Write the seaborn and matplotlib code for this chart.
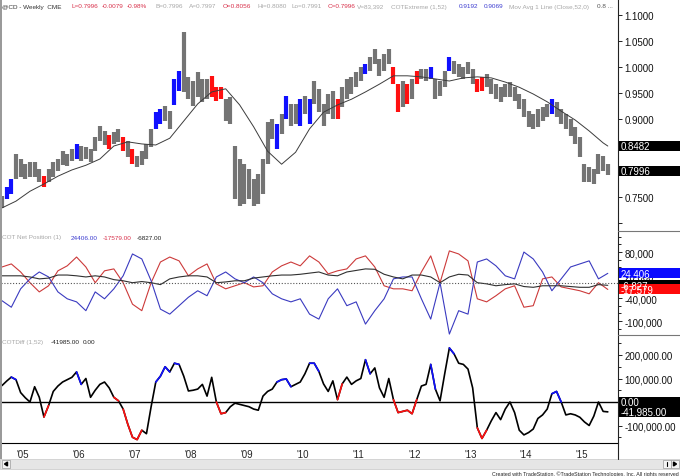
import numpy as np
import matplotlib
matplotlib.use("Agg")
import matplotlib.pyplot as plt
from matplotlib.patches import Rectangle, Polygon
from matplotlib.lines import Line2D
from matplotlib.transforms import blended_transform_factory
import seaborn as sns

# monthly bars, index 0 = Aug 2004 ... 130 = Jun 2015
price_hi = [.752, .769, .785, .833, .823, .813, .817, .817, .804, .790,
            .804, .817, .823, .838, .833, .842, .852, .848, .846, .842,
            .865, .886, .877, .869, .875, .881, .865, .858, .842, .829,
            .838, .852, .881, .913, .919, .925, .915, .977, .992, 1.067,
            .981, .973, .990, .977, .977, .983, .961, .961, .938, .942,
            .848, .823, .813, .804, .785, .794, .823, .894, .900, .890,
            .910, .944, .929, .929, .938, .944, .938, .973, .958, .929,
            .948, .954, .938, .961, .977, .981, .990, 1.000, 1.006, 1.019,
            1.035, 1.015, 1.025, 1.035, 1.000, .967, .973, .967, .977, .992,
            .996, .996, 1.000, .977, .973, .992, 1.019, 1.011, 1.006, 1.000,
            1.009, .996, .977, .981, .987, .977, .967, .961, .967, .971,
            .961, .948, .938, .915, .910, .919, .923, .929, .938, .933,
            .919, .910, .900, .885, .865, .813, .808, .804, .833, .829,
            .813]
price_lo = [.728, .746, .756, .785, .788, .785, .788, .788, .779, .769,
            .779, .788, .800, .811, .810, .819, .823, .819, .823, .817,
            .838, .858, .850, .842, .852, .856, .838, .827, .813, .808,
            .811, .823, .846, .881, .890, .896, .881, .927, .954, .952,
            .938, .925, .942, .933, .938, .942, .935, .938, .896, .890,
            .746, .733, .737, .746, .733, .737, .756, .813, .861, .842,
            .871, .900, .886, .890, .886, .910, .890, .929, .913, .886,
            .910, .900, .900, .923, .938, .948, .961, .973, .987, .992,
            1.006, .983, .992, 1.006, .967, .913, .923, .929, .938, .967,
            .977, .973, .977, .938, .944, .961, .992, .987, .981, .977,
            .987, .967, .952, .954, .961, .948, .938, .933, .942, .942,
            .935, .919, .904, .885, .881, .885, .896, .904, .910, .904,
            .890, .881, .867, .852, .827, .779, .779, .775, .794, .800,
            .792]
price_blue = [1, 2, 16, 33, 34, 37, 38, 59, 61, 64, 66, 78, 92, 96, 118]
price_red = [9, 23, 26, 28, 45, 46, 47, 72, 84, 85, 87, 89, 102, 103]

ma_month = [0, 3, 6, 9, 12, 15, 18, 21, 24, 27, 30, 33, 36, 39, 42, 45, 48, 51,
            54, 57, 60, 63, 66, 69, 72, 75, 78, 81, 84, 87, 90, 93, 96, 99, 102,
            105, 108, 111, 114, 117, 120, 123, 126, 129, 130]
ma_value = [.729, .742, .761, .775, .790, .802, .811, .823, .848, .856, .852,
            .850, .863, .896, .929, .952, .958, .927, .885, .838, .813, .836,
            .881, .913, .927, .938, .952, .967, .983, .983, .981, .977, .973,
            .979, .981, .979, .971, .961, .948, .933, .915, .898, .877, .854,
            .848]

# COT net positions, every 2nd month, in thousands of contracts
cot_month = list(range(0, 131, 2))
cot_blue = [-47, -64, -16, 10, 28, 15, -24, -42, -50, -73, -24, -42, -16, 18,
            75, 62, 5, -69, -82, -60, -38, -21, -34, 15, 28, 10, 0, 15, 0, -29,
            -42, -50, -42, -82, -95, -42, -16,
            -60, -50, -108, -73, -42, 10, 15, 15, -42, -95, 0, -134, -73, -82,
            54, 62, 44, 18, 10, 80, 62, 28, -21, 10, 41, 49, 57, 10, 24.406]
cot_red = [41, 49, 28, 0, -24, -8, 31, 44, 67, 41, 0, 31, 36, 0, -56, -73, 0,
           54, 67, 57, 18, 36, 49, -3, -16, -8, 0, -11, -8, 28, 44, 54, 44, 70,
           54, 23, 31,
           36, 62, 70, 41, -8, -16, -16, -21, 28, 70, 0, 83, 75, 57, -42, -50,
           -34, -16, -8, -64, -60, 10, 15, -11, -16, -21, -29, 0, -17.579]
cot_black = [18, 18, 18, 15, 10, 12, 20, 20, 18, 15, 18, 15, 8, 5, 0, 3, 0, -5,
             10, 15, 18, 18, 15, 0, 2, 5, 5, 12, 15, 18, 20, 20, 22, 25, 28, 20,
             18,
             28, 32, 36, 35, 22, 15, 10, 20, 20, 15, 0, 15, 22, 20, 0, -3, -8,
             -5, -3, -10, -12, -8, -8, -8, -10, -12, -12, -5, -6.827]

# COTDiff (1,52), monthly, thousands
cotdiff = [70, 89, 106, 95, 40, 18, 0, 65, 20, -64,
           -15, 45, 68, 85, 95, 105, 128, 75, 100, 20,
           50, 75, 85, 60, 20, 5, -30, -95, -150, -160,
           -120, -135, -20, 85, 110, 150, 128, 165, 160, 110,
           47, 50, 55, 75, 25, 105, 0, -50, -45, -20,
           -5, -10, -15, -20, -30, -35, 25, 45, 55, 85,
           95, 98, 65, 75, 85, 120, 165, 165, 130, 77,
           45, 90, 10, 77, 106, 75, 90, 100, 180, 120,
           145, 60, 20, 100, 10, -45, -40, -35, -50, 10,
           68, 75, 160, 55, 5, 120, 230, 205, 165, 160,
           140, 60, -110, -155, -120, -80, -45, -75, -30, 0,
           -45, -120, -140, -130, -115, -70, -55, -30, 35, 45,
           0, -55, -50, -55, -65, -85, -100, -60, 0, -40,
           -41.985]
cotdiff_blue = [2, 16, 33, 34, 35, 37, 59, 60, 61, 66, 67, 78, 92, 96, 118, 119]
cotdiff_red = [9, 24, 26, 27, 28, 29, 46, 47, 72, 84, 85, 86, 87, 88, 102, 103]

year_labels = ["'05", "'06", "'07", "'08", "'09", "'10", "'11", "'12", "'13", "'14", "'15"]

sns.set_style("white")
plt.rcParams['font.family'] = ['Liberation Sans', 'DejaVu Sans']

W, H = 680, 477
PX_MONTH = 4.66
fig = plt.figure(figsize=(W / 100, H / 100), dpi=100)
fig.patch.set_facecolor("white")


def px_axes(top, bottom):
    return fig.add_axes([1 / W, 1 - bottom / H, 617 / W, (bottom - top) / H])


ax1 = px_axes(0, 232)
ax2 = px_axes(232, 336)
ax3 = px_axes(336, 444)
xlim = ((1 - 2) / PX_MONTH, (618 - 2) / PX_MONTH)

months = np.arange(len(price_hi))
colors = ["#747474"] * len(months)
for m in price_blue:
    colors[m] = "#1010ff"
for m in price_red:
    colors[m] = "#ff1010"

# price panel: wide bars so the months read as one jagged band
ax1.vlines(months, price_lo, price_hi, colors=colors, linewidth=3.0)
sns.lineplot(x=ma_month, y=ma_value, ax=ax1, color="#3c3c3c", linewidth=0.7)
ax1.set_ylim(0.6846, 1.1307)
ax1.set_yticks([1.10, 1.05, 1.00, 0.95, 0.90, 0.85, 0.80, 0.75, 0.70])
ax1.set_yticklabels(["1.1000", "1.0500", "1.0000", "0.9500", "0.9000", "", "", "0.7500", ""])

# COT net position panel
cm = np.array(cot_month)
sns.lineplot(x=cm, y=np.array(cot_red) * 1000, ax=ax2, color="#cc3a3a", linewidth=0.8)
sns.lineplot(x=cm, y=np.array(cot_blue) * 1000, ax=ax2, color="#3a3ac0", linewidth=0.8)
sns.lineplot(x=cm, y=np.array(cot_black) * 1000, ax=ax2, color="#303030", linewidth=0.8)
ax2.axhline(0, color="#555555", linewidth=0.8, linestyle=(0, (1, 1.6)))
ax2.set_ylim(-136450, 134900)
ax2.set_yticks([80000, 20000, -40000, -100000])
ax2.set_yticklabels(["80,000", "20,000", "-40,000", "-100,000"])
ax2.set_yticks(np.arange(-120000, 130000, 20000), minor=True)

# COTDiff panel
cd = np.array(cotdiff) * 1000
ax3.axhline(0, color="black", linewidth=1.0)
sns.lineplot(x=months, y=cd, ax=ax3, color="black", linewidth=1.2)


def runs(idx):
    out, start = [], None
    for i, m in enumerate(idx):
        if start is None:
            start = m
        if i == len(idx) - 1 or idx[i + 1] != m + 1:
            out.append((start, m))
            start = None
    return out


for flags, col in [(cotdiff_blue, "#1010ff"), (cotdiff_red, "#ff1010")]:
    for a, b in runs(flags):
        sl = slice(a, min(b + 2, len(cd)))
        sns.lineplot(x=months[sl], y=cd[sl], ax=ax3, color=col, linewidth=1.2)
ax3.set_ylim(-174450, 285100)
ax3.set_yticks([200000, 100000, -100000])
ax3.set_yticklabels(["200,000.00", "100,000.00", "-100,000.00"])
ax3.set_yticks(np.arange(-150000, 260000, 50000), minor=True)
ax3.set_xticks(np.arange(len(year_labels)) * 12 + 4.5)
ax3.set_xticklabels(year_labels)

for ax in (ax1, ax2, ax3):
    ax.set_xlim(*xlim)
    ax.set_xlabel("")
    ax.set_ylabel("")
    ax.yaxis.tick_right()
    ax.tick_params(axis="y", which="both", direction="out", length=3, width=0.6,
                   color="black", labelsize=7, pad=1.5, labelcolor="#111111")
    ax.tick_params(axis="y", which="minor", length=2)
    for s in ax.spines.values():
        s.set_visible(False)
    if ax is not ax3:
        ax.set_xticks([])
ax3.spines["bottom"].set_visible(True)
ax3.spines["bottom"].set_color("black")
ax3.spines["bottom"].set_linewidth(0.8)
ax3.tick_params(axis="x", direction="out", length=3, width=0.6, labelsize=7, pad=1.5)


def value_box(ax, value, text, face, hpx=10, size=7):
    trans = blended_transform_factory(fig.transFigure, ax.transData)
    y0, y1 = ax.get_ylim()
    per_px = (y1 - y0) / (ax.get_position().height * H)
    h = hpx * per_px
    ax.add_patch(Rectangle((618.5 / W, value - h / 2), 61.5 / W, h, transform=trans,
                           facecolor=face, edgecolor="none", clip_on=False, zorder=6))
    ax.text(621 / W, value, text, transform=trans, color="white", fontsize=size,
            va="center", ha="left", zorder=7, clip_on=False)


value_box(ax1, 0.8482, "0.8482", "black")
value_box(ax1, 0.7996, "0.7996", "black")
value_box(ax2, -6827, "-6,827", "black")
value_box(ax2, 24406, "24,406", "#0a0aff")
value_box(ax2, -17579, "-17,579", "#ff0a0a")
value_box(ax3, 0, "0.00", "black")
value_box(ax3, -41985, "-41,985.00", "black")

# frame lines
fig.add_artist(Rectangle((0, 1 - 460 / H), 1.6 / W, 460 / H, transform=fig.transFigure,
                         facecolor="#9a9a9a", edgecolor="none"))
fig.add_artist(Line2D([618 / W, 618 / W], [1, 1 - 460 / H], transform=fig.transFigure,
                      color="#222222", linewidth=0.8))
for yy in (232, 336):
    fig.add_artist(Line2D([618 / W, 1], [1 - yy / H] * 2, transform=fig.transFigure,
                          color="#777777", linewidth=0.8))

# scrollbar
fig.add_artist(Rectangle((0, 1 - 470 / H), 1, 10 / H, transform=fig.transFigure,
                         facecolor="#e6e6e6", edgecolor="#c8c8c8", linewidth=0.5))
for x0 in (2, 663, 671):
    fig.add_artist(Rectangle((x0 / W, 1 - 469 / H), 7.5 / W, 8 / H, transform=fig.transFigure,
                             facecolor="#f4f4f4", edgecolor="#9a9a9a", linewidth=0.5))
fig.add_artist(Polygon([[4.5 / W, 1 - 465 / H], [7.5 / W, 1 - 463 / H], [7.5 / W, 1 - 467 / H]],
                       closed=True, transform=fig.transFigure, color="black"))
fig.add_artist(Polygon([[673.5 / W, 1 - 463 / H], [673.5 / W, 1 - 467 / H], [676.5 / W, 1 - 465 / H]],
                       closed=True, transform=fig.transFigure, color="black"))
fig.add_artist(Line2D([667 / W, 667 / W], [1 - 463 / H, 1 - 467 / H], transform=fig.transFigure,
                      color="black", linewidth=0.8))


def hdr(x, y, s, color, size=4.6):
    fig.text(x / W, 1 - y / H, s, color=color, fontsize=size, va="center", ha="left")


red_t, gray_t, blue_t = "#d8304a", "#a8a8a8", "#3c3cd0"
hdr(2, 7, "@CD - Weekly  CME", "#333333")
hdr(72, 7, "L=0.7996", red_t)
hdr(102, 7, "-0.0079", red_t)
hdr(127, 7, "-0.98%", red_t)
hdr(156, 7, "B=0.7996", gray_t)
hdr(189, 7, "A=0.7997", gray_t)
hdr(223, 7, "O=0.8056", red_t)
hdr(257, 7, "Hi=0.8080", gray_t)
hdr(292, 7, "Lo=0.7991", gray_t)
hdr(328, 7, "C=0.7996", red_t)
hdr(357, 7, "V=83,392", gray_t)
hdr(391, 7, "COTExtreme (1,52)", gray_t)
hdr(459, 7, "0.9192", blue_t)
hdr(484, 7, "0.9069", blue_t)
hdr(509, 7, "Mov Avg 1 Line (Close,52,0)", gray_t)
hdr(597, 7, "0.8 ...", "#555555")

hdr(2, 238, "COT Net Position (1)", gray_t)
hdr(71, 238, "24406.00", blue_t)
hdr(103, 238, "-17579.00", red_t)
hdr(137, 238, "-6827.00", "#222222")

hdr(2, 343, "COTDiff (1,52)", gray_t)
hdr(51, 343, "-41985.00", "#222222")
hdr(83, 343, "0.00", "#222222")

fig.text(679 / W, 1 - 474 / H,
         "Created with TradeStation. \u00a9TradeStation Technologies, Inc. All rights reserved",
         fontsize=3.8, color="#222222", ha="right", va="center")

fig.savefig("out.png", dpi=100)
